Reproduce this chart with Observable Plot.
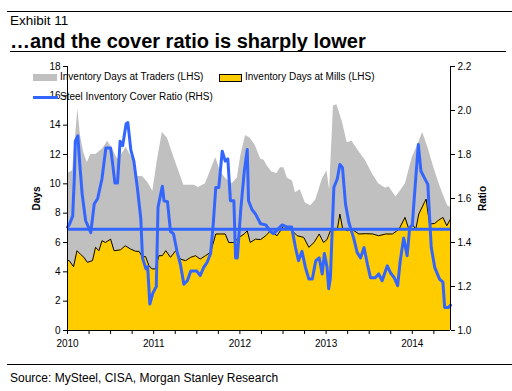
<!DOCTYPE html>
<html><head><meta charset="utf-8">
<script src="https://cdn.jsdelivr.net/npm/d3@7"></script>
<script src="https://cdn.jsdelivr.net/npm/@observablehq/plot@0.6"></script>
<style>
html,body{margin:0;padding:0;background:#fff;}
#page{position:relative;width:512px;height:391px;overflow:hidden;font-family:"Liberation Sans",Arial,sans-serif;color:#000;}
.abs{position:absolute;white-space:nowrap;}
.rule{position:absolute;background:#000;height:1px;}
.lg{position:absolute;white-space:nowrap;font-size:10px;line-height:10px;}
</style></head><body><div id="page">
<div class="rule" style="left:7px;top:11px;width:505px;"></div>
<div class="abs" style="left:10px;top:14px;font-size:13.5px;line-height:13.5px;">Exhibit 11</div>
<div class="abs" style="left:10px;top:31px;font-size:20px;line-height:20px;font-weight:bold;">…and the cover ratio is sharply lower</div>
<div class="rule" style="left:10px;top:51px;width:496px;"></div>
<div id="chart" class="abs" style="left:0;top:55px;"></div>
<div id="legend"></div>
<div class="rule" style="left:7px;top:364px;width:505px;"></div>
<div class="abs" style="left:10px;top:372px;font-size:12px;line-height:12px;">Source: MySteel, CISA, Morgan Stanley Research</div>
</div>
<script>
// ---- Data (years as fractional year) ----
const tradersT = [2010.00,2010.06,2010.10,2010.12,2010.15,2010.19,2010.23,2010.27,2010.33,2010.41,2010.465,2010.52,2010.58,2010.64,2010.68,2010.755,2010.81,2010.87,2010.93,2010.99,2011.04,2011.10,2011.16,2011.235,2011.29,2011.35,2011.42,2011.47,2011.52,2011.60,2011.66,2011.72,2011.77,2011.83,2011.91,2011.97,2012.01,2012.065,2012.12,2012.18,2012.24,2012.28,2012.32,2012.37,2012.43,2012.47,2012.51,2012.55,2012.61,2012.645,2012.70,2012.76,2012.82,2012.88,2012.955,2013.01,2013.04,2013.07,2013.085,2013.125,2013.19,2013.245,2013.30,2013.38,2013.455,2013.535,2013.61,2013.69,2013.73,2013.81,2013.86,2013.92,2014.00,2014.06,2014.12,2014.18,2014.24,2014.30,2014.355,2014.41,2014.443];
const tradersDays = [10.7,10.9,13.7,15.1,13.3,12.1,11.45,12.0,12.0,12.4,12.9,12.4,11.7,12.1,12.5,11.7,10.5,10.5,10.1,9.5,11.5,13.5,13.1,11.8,10.9,9.9,9.9,9.9,9.75,10.0,10.9,11.8,10.9,10.4,10.0,10.4,11.9,13.3,13.1,12.6,11.7,11.6,11.2,10.8,10.7,11.1,11.1,10.4,10.2,9.4,9.6,8.7,8.5,8.9,10.3,10.9,9.6,13.3,15.3,15.4,14.2,12.8,12.9,12.2,11.6,10.7,10.0,9.7,9.8,9.1,9.5,10.0,11.8,12.6,13.5,12.5,11.3,10.2,9.3,8.5,8.4];

const millsT = [2010.00,2010.02,2010.07,2010.11,2010.15,2010.19,2010.23,2010.29,2010.325,2010.365,2010.40,2010.44,2010.50,2010.54,2010.615,2010.67,2010.73,2010.79,2010.83,2010.87,2010.905,2010.945,2010.98,2011.02,2011.06,2011.10,2011.14,2011.195,2011.255,2011.31,2011.37,2011.43,2011.485,2011.54,2011.60,2011.66,2011.72,2011.775,2011.83,2011.87,2011.93,2011.99,2012.05,2012.085,2012.12,2012.18,2012.24,2012.30,2012.355,2012.43,2012.51,2012.59,2012.665,2012.74,2012.80,2012.86,2012.92,2012.97,2013.01,2013.05,2013.13,2013.16,2013.19,2013.245,2013.30,2013.38,2013.46,2013.54,2013.61,2013.69,2013.77,2013.845,2013.915,2013.96,2014.00,2014.04,2014.075,2014.14,2014.16,2014.20,2014.26,2014.30,2014.355,2014.40,2014.443];
const millsDays = [4.8,4.76,4.35,5.44,5.2,4.99,4.65,4.76,5.67,5.44,6.12,6.0,6.23,5.44,5.5,5.78,5.56,5.4,5.4,4.99,5.05,4.42,4.2,4.2,5.1,5.1,5.44,4.99,5.44,4.87,4.76,4.99,5.1,4.87,5.1,5.33,6.58,6.58,6.58,6.0,6.0,6.35,6.58,6.8,6.0,6.23,6.2,6.46,6.8,6.46,7.14,6.9,6.46,6.35,5.67,6.0,6.58,6.0,6.2,6.8,6.9,7.94,7.0,6.8,6.9,6.58,6.6,6.58,6.46,6.58,6.58,6.9,7.71,6.9,7.26,6.9,7.94,8.73,8.96,7.26,7.3,7.5,7.71,7.14,7.6];

const ratioT = [2010.00,2010.02,2010.06,2010.08,2010.09,2010.12,2010.14,2010.17,2010.21,2010.27,2010.31,2010.35,2010.40,2010.445,2010.50,2010.52,2010.55,2010.58,2010.61,2010.64,2010.68,2010.70,2010.735,2010.77,2010.81,2010.85,2010.87,2010.91,2010.93,2010.955,2010.99,2011.03,2011.05,2011.10,2011.12,2011.16,2011.195,2011.23,2011.27,2011.31,2011.35,2011.39,2011.43,2011.50,2011.54,2011.58,2011.62,2011.66,2011.69,2011.72,2011.755,2011.795,2011.83,2011.86,2011.89,2011.93,2011.95,2011.97,2012.01,2012.05,2012.085,2012.10,2012.14,2012.18,2012.24,2012.30,2012.355,2012.39,2012.43,2012.49,2012.55,2012.60,2012.645,2012.68,2012.72,2012.76,2012.80,2012.84,2012.88,2012.92,2012.955,2012.98,2013.01,2013.03,2013.05,2013.07,2013.09,2013.13,2013.16,2013.19,2013.225,2013.265,2013.32,2013.36,2013.40,2013.44,2013.48,2013.515,2013.57,2013.61,2013.65,2013.71,2013.75,2013.79,2013.83,2013.86,2013.90,2013.94,2013.97,2014.00,2014.04,2014.07,2014.10,2014.14,2014.18,2014.22,2014.26,2014.315,2014.355,2014.375,2014.42,2014.443];
const ratioValues = [1.47,1.48,1.52,1.70,1.86,1.885,1.77,1.62,1.50,1.445,1.575,1.60,1.69,1.83,1.83,1.77,1.67,1.67,1.86,1.84,1.94,1.945,1.82,1.77,1.65,1.51,1.33,1.28,1.29,1.12,1.17,1.20,1.56,1.656,1.59,1.585,1.45,1.44,1.36,1.30,1.21,1.226,1.27,1.27,1.25,1.287,1.31,1.35,1.48,1.65,1.65,1.815,1.77,1.78,1.59,1.59,1.33,1.33,1.55,1.72,1.823,1.59,1.55,1.53,1.485,1.48,1.45,1.44,1.455,1.48,1.47,1.47,1.377,1.317,1.36,1.287,1.234,1.234,1.317,1.33,1.257,1.35,1.29,1.19,1.24,1.45,1.65,1.69,1.755,1.74,1.575,1.49,1.42,1.355,1.33,1.377,1.30,1.24,1.24,1.257,1.226,1.294,1.26,1.24,1.204,1.317,1.42,1.34,1.468,1.48,1.694,1.845,1.725,1.694,1.664,1.377,1.287,1.234,1.22,1.105,1.105,1.115];
const ratioAverage = 1.46;

const yearLabels = [2010, 2011, 2012, 2013, 2014];
const daysTicks = [0, 2, 4, 6, 8, 10, 12, 14, 16, 18];
const ratioTicks = [1.0, 1.2, 1.4, 1.6, 1.8, 2.0, 2.2];

const seriesNames = ["Inventory Days at Traders (LHS)", "Inventory Days at Mills (LHS)", "Steel Inventory Cover Ratio (RHS)"];
const colors = {traders: "#c0c0c0", mills: "#ffcc00", ratio: "#3366ff"};

// ---- Build tables ----
const xStart = 2010, xEnd = 2014.443;
const daysMax = 18, ratioMin = 1.0, ratioMax = 2.2;
const r2d = r => (r - ratioMin) * daysMax / (ratioMax - ratioMin);
const d2r = d => ratioMin + d * (ratioMax - ratioMin) / daysMax;

const traders = tradersT.map((t, i) => ({t, v: tradersDays[i]}));
const mills = millsT.map((t, i) => ({t, v: millsDays[i]}));
const ratio = ratioT.map((t, i) => ({t, v: r2d(ratioValues[i])}));
const quarterTicks = d3.range(xStart, xEnd, 0.25);

const chart = Plot.plot({
  width: 512, height: 300,
  marginLeft: 67, marginRight: 62, marginTop: 11, marginBottom: 25,
  style: {fontFamily: "'Liberation Sans', Arial, sans-serif", fontSize: "10px", color: "#000", background: "transparent", overflow: "visible"},
  x: {type: "linear", domain: [xStart, xEnd]},
  y: {domain: [0, daysMax]},
  marks: [
    Plot.areaY(traders, {x: "t", y: "v", fill: colors.traders}),
    Plot.areaY(mills, {x: "t", y: "v", fill: colors.mills}),
    Plot.lineY(mills, {x: "t", y: "v", stroke: "#000", strokeWidth: 1}),
    Plot.ruleY([r2d(ratioAverage)], {stroke: colors.ratio, strokeWidth: 3}),
    Plot.lineY(ratio, {x: "t", y: "v", stroke: colors.ratio, strokeWidth: 3, strokeLinejoin: "round"}),
    Plot.ruleX([xStart], {stroke: "#000", strokeWidth: 1}),
    Plot.ruleX([xEnd], {stroke: "#000", strokeWidth: 1}),
    Plot.ruleY([0], {stroke: "#000", strokeWidth: 1}),
    Plot.axisY(daysTicks, {anchor: "left", tickSize: 4, tickPadding: 3, label: null, tickFormat: d => d}),
    Plot.axisY(ratioTicks.map(r2d), {anchor: "right", tickSize: 4, tickPadding: 3, label: null, tickFormat: d => d2r(d).toFixed(1)}),
    Plot.axisX(quarterTicks, {anchor: "bottom", tickSize: 4, tickPadding: 5, label: null, tickFormat: d => yearLabels.includes(d) ? String(d) : ""}),
    Plot.text(["Days"], {frameAnchor: "left", dx: -31, rotate: -90, textAnchor: "middle", lineAnchor: "middle", fontWeight: "bold", fontSize: 10}),
    Plot.text(["Ratio"], {frameAnchor: "right", dx: 32, rotate: -90, textAnchor: "middle", lineAnchor: "middle", fontWeight: "bold", fontSize: 10})
  ]
});
document.getElementById("chart").appendChild(chart);

// ---- Legend ----
const lg = document.getElementById("legend");
lg.innerHTML = `
<div class="abs" style="left:33px;top:74px;width:24px;height:7px;background:${colors.traders};"></div>
<div class="lg" style="left:60px;top:71.5px;">${seriesNames[0]}</div>
<div class="abs" style="left:219px;top:74px;width:23px;height:8px;background:${colors.mills};border:1px solid #000;box-sizing:border-box;"></div>
<div class="lg" style="left:245px;top:71.5px;">${seriesNames[1]}</div>
<div class="abs" style="left:33px;top:95.5px;width:25px;height:3px;background:${colors.ratio};"></div>
<div class="lg" style="left:60px;top:92px;">${seriesNames[2]}</div>`;
</script>
</body></html>
